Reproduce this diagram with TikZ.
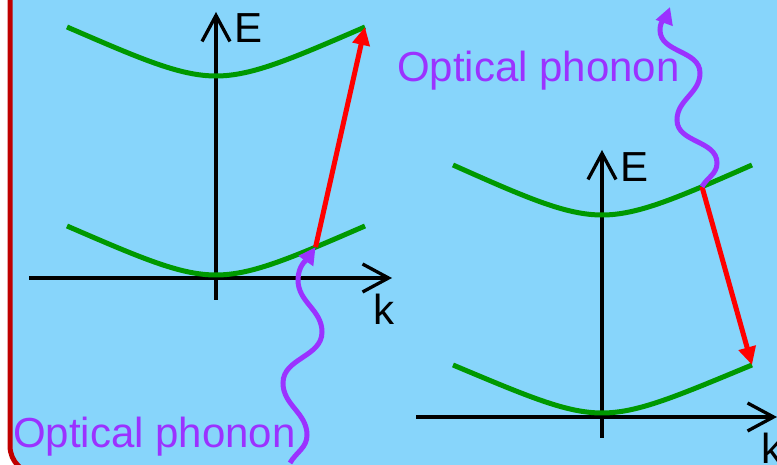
\documentclass[tikz,border=0pt]{standalone}
\usepackage{fontspec}
\setmainfont{Liberation Sans}
\usetikzlibrary{arrows.meta}

\definecolor{bgblue}{RGB}{135,213,251}
\definecolor{framered}{RGB}{192,0,0}
\definecolor{bandgreen}{RGB}{0,153,0}
\definecolor{phononpurple}{RGB}{155,50,255}

\tikzset{
  band/.style={bandgreen, line width=5pt},
  axis/.style={black, line width=3.3pt, -{Straight Barb[length=26pt,width=28pt]}},
  hop/.style={red, line width=5pt, -{Triangle[length=18pt,width=17pt]}},
  wave/.style={phononpurple, line width=5pt, -{Triangle[length=17pt,width=17pt]}},
  lbl/.style={font=\fontsize{42pt}{50pt}\selectfont, inner sep=0pt, anchor=base west},
}

\begin{document}
\begin{tikzpicture}[x=1pt, y=1pt]

\useasboundingbox (0,0) rectangle (777,465);
\clip (0,0) rectangle (777,465);

% ── Slide frame ──
\fill[white] (0,0) rectangle (777,465);
\draw[framered, fill=bgblue, line width=5pt, rounded corners=28pt] (10,-9) rectangle (820,500);

% ── LEFT PANEL: phonon absorbed ──
% Axes
\draw[axis] (29,187) -- (392,187);
\draw[axis] (216,165) -- (216,453);
\node[lbl] (eLeft) at (234,422) {E};
\node[lbl] (kLeft) at (373,140) {k};

% Conduction band (top), valence band (bottom)
\draw[band, shift={(216,389)}] (-149,49) .. controls (-75,17) and (-36,0) .. (0,0)
  .. controls (36,0) and (75,17) .. (149,49) coordinate (cbL);
\draw[band, shift={(216,190)}] (-149,49) .. controls (-75,17) and (-36,0) .. (0,0)
  .. controls (36,0) and (75,17) .. coordinate[pos=0.75] (vbL) (149,49);

% Electron hop
\draw[hop] (vbL) -- (cbL);

% Incoming phonon
\coordinate (phL) at (290,2);
\draw[wave] (phL) to[out=60,in=270] (307,30) to[out=90,in=270] (283,82)
  to[out=90,in=270] (322,133) to[out=90,in=270] (298,185) to[out=90,in=235] (vbL);
\node[lbl, text=phononpurple] (phLtxt) at (13,17) {Optical phonon};

% ── RIGHT PANEL: phonon emitted ──
% Axes
\draw[axis] (416,48) -- (777,48);
\draw[axis] (602,27) -- (602,315);
\node[lbl] (eRight) at (620,283) {E};
\node[lbl] (kRight) at (761,1) {k};

% Conduction band (top), valence band (bottom)
\draw[band, shift={(602,250)}] (-149,50) .. controls (-75,17) and (-36,0) .. (0,0)
  .. controls (36,0) and (75,17) .. coordinate[pos=0.75] (cbR) (150,50);
\draw[band, shift={(602,52)}] (-149,48) .. controls (-75,17) and (-36,0) .. (0,0)
  .. controls (36,0) and (75,17) .. (150,48) coordinate (vbR);

% Electron drop
\draw[hop] (cbR) -- (vbR);

% Outgoing phonon
\coordinate (phR) at (670,458);
\draw[wave] (cbR) to[out=60,in=270] (717,302) to[out=90,in=270] (677,345)
  to[out=90,in=270] (700,392) to[out=90,in=270] (660,435) to[out=90,in=250] (phR);
\node[lbl, text=phononpurple] (phRtxt) at (397,383) {Optical phonon};

\end{tikzpicture}
\end{document}
